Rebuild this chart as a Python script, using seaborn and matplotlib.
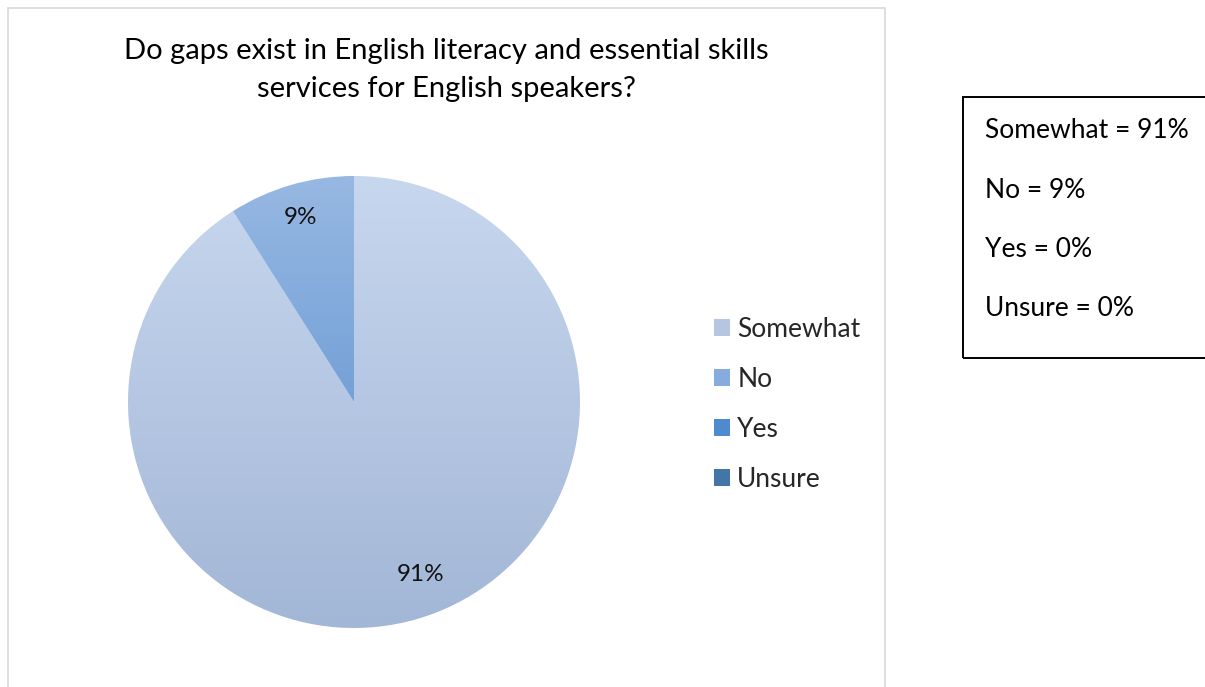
import numpy as np
import matplotlib
matplotlib.use("Agg")
import matplotlib.pyplot as plt
import seaborn as sns
from matplotlib.patches import Rectangle, Patch
from matplotlib.colors import LinearSegmentedColormap

# Survey answers
categories = ["Somewhat", "No", "Yes", "Unsure"]
shares = [91, 9, 0, 0]
title_text = "Do gaps exist in English literacy and essential skills\nservices for English speakers?"
summary_lines = [f"{c} = {v}%" for c, v in zip(categories, shares)]

# Vertical gradient stops (top, bottom) for each answer
top_colors = ["#c7d7ee", "#97b8e2", "#5d99d8", "#4f82b8"]
bottom_colors = ["#a2b6d6", "#74a1d8", "#3f7cc2", "#3a6897"]
mid_colors = [sns.blend_palette([t, b], 3)[1] for t, b in zip(top_colors, bottom_colors)]

sns.set_theme(style="white")
plt.rcParams["font.family"] = ["Lato", "DejaVu Sans"]

W, H = 1205, 687
fig = plt.figure(figsize=(W / 100, H / 100), dpi=100)
fig.patch.set_facecolor("white")


def px_rect(x0, y0, x1, y1):
    return [x0 / W, 1 - y1 / H, (x1 - x0) / W, (y1 - y0) / H]


# Chart frame
fig.patches.append(Rectangle((8 / W, -0.05), (885 - 8) / W, 1.05 - 8 / H,
                             transform=fig.transFigure, fill=False,
                             edgecolor="#d9d9d9", linewidth=1.2))

fig.text(446 / W, 1 - 70 / H, title_text, ha="center", va="center",
         fontsize=21, color="#000000", linespacing=1.55)

ax = fig.add_axes(px_rect(128, 176, 580, 628))
wedges, texts, autotexts = ax.pie(
    shares, startangle=90, counterclock=False, radius=1,
    autopct=lambda p: f"{p:.0f}%" if p > 0.5 else "",
    pctdistance=0.85, textprops=dict(fontsize=17.5, color="#111111"),
    wedgeprops=dict(linewidth=0),
)

grad = np.linspace(0, 1, 256).reshape(-1, 1)
for w, top, bot, v in zip(wedges, top_colors, bottom_colors, shares):
    if v <= 0:
        continue
    verts = w.get_path().vertices
    x0, x1 = verts[:, 0].min(), verts[:, 0].max()
    y0, y1 = verts[:, 1].min(), verts[:, 1].max()
    cmap = LinearSegmentedColormap.from_list("g", [top, bot])
    im = ax.imshow(grad, cmap=cmap, extent=[x0, x1, y0, y1], origin="upper",
                   aspect="auto", interpolation="bilinear", zorder=1)
    im.set_clip_path(w)
    w.set_facecolor("none")

for t in autotexts:
    t.set_zorder(5)
autotexts[0].set_position((0.296, -0.765))

ax.set_xlim(-1, 1)
ax.set_ylim(-1, 1)
ax.axis("off")

handles = [Patch(facecolor=c, edgecolor="none") for c in mid_colors]
fig.legend(handles, categories, loc="center left",
           bbox_to_anchor=(714 / W, 1 - 404.5 / H), frameon=False,
           fontsize=19, handlelength=0.6, handleheight=0.6,
           handletextpad=0.28, labelspacing=0.95, borderpad=0, borderaxespad=0)

# Summary box
fig.patches.append(Rectangle((963 / W, 1 - 358 / H), 300 / W, (358 - 97) / H,
                             transform=fig.transFigure, fill=False,
                             edgecolor="#000000", linewidth=1.4))
for i, line in enumerate(summary_lines):
    fig.text(985 / W, 1 - (131 + i * 59) / H, line, ha="left", va="center",
             fontsize=19, color="#000000")

fig.savefig("out.png", dpi=100)
